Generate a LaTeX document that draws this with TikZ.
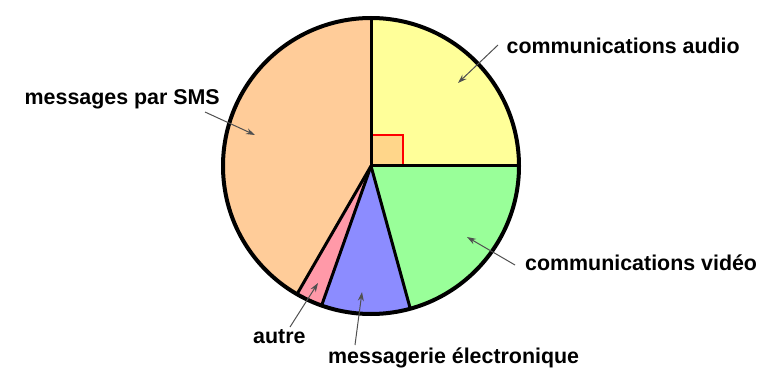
\documentclass[tikz,border=0pt]{standalone}
\usepackage{fontspec}
\setmainfont{Liberation Sans}
\usetikzlibrary{arrows.meta}
\definecolor{cyellow}{HTML}{FFFF99}
\definecolor{corange}{HTML}{FFCC99}
\definecolor{cpink}{HTML}{FF99A8}
\definecolor{cblue}{HTML}{8C8CFF}
\definecolor{cgreen}{HTML}{99FF99}
\definecolor{csquare}{HTML}{FFD68A}
\definecolor{carrow}{HTML}{505050}
\tikzset{
  slice/.style={draw=black, line width=3pt, line join=round},
  lbl/.style={inner sep=0pt, font=\fontsize{21.4}{25}\selectfont\bfseries},
  pointer/.style={draw=carrow, line width=1pt, -{Stealth[length=9pt,width=6pt]}}
}
\begin{document}
\begin{tikzpicture}[x=1pt,y=1pt]
\useasboundingbox (0,0) rectangle (758,370);
\coordinate (C) at (371,204);
\def\R{148}
% slices
\fill[cyellow] (C) -- ++(0:\R) arc[start angle=0,end angle=90,radius=\R] -- cycle;
\fill[corange] (C) -- ++(90:\R) arc[start angle=90,end angle=240,radius=\R] -- cycle;
\fill[cpink] (C) -- ++(240:\R) arc[start angle=240,end angle=250.5,radius=\R] -- cycle;
\fill[cblue] (C) -- ++(250.5:\R) arc[start angle=250.5,end angle=285.4,radius=\R] -- cycle;
\fill[cgreen] (C) -- ++(285.4:\R) arc[start angle=285.4,end angle=360,radius=\R] -- cycle;
% right-angle square
\fill[csquare] (C) rectangle ++(32,31);
\draw[red, line width=1.8pt] (C) ++(0,31) -- ++(32,0) -- ++(0,-31);
% radial lines
\foreach \a in {0,90,240,250.5,285.4} \draw[slice] (C) -- ++(\a:\R);
\draw[draw=black, line width=4pt] (C) circle[radius=\R];
% labels
\node[lbl, anchor=base west] (audio) at (506.5,316) {communications audio};
\node[lbl, anchor=base east] (sms) at (220,265) {messages par SMS};
\node[lbl, anchor=base west] (video) at (525,99.3) {communications vidéo};
\node[lbl, anchor=base west] (mail) at (328,6.7) {messagerie électronique};
\node[lbl, anchor=base west] (autre) at (253,26.7) {autre};
% pointer coordinates
\coordinate (audioT) at (498,325); \coordinate (audioH) at (458,287);
\coordinate (smsT) at (205,258);   \coordinate (smsH) at (255,235);
\coordinate (videoT) at (515,105); \coordinate (videoH) at (467,133);
\coordinate (mailT) at (355,25);   \coordinate (mailH) at (362,78);
\coordinate (autreT) at (290,43);  \coordinate (autreH) at (318,87);
\draw[pointer] (audioT) -- (audioH);
\draw[pointer] (smsT) -- (smsH);
\draw[pointer] (videoT) -- (videoH);
\draw[pointer] (mailT) -- (mailH);
\draw[pointer] (autreT) -- (autreH);
\end{tikzpicture}
\end{document}
